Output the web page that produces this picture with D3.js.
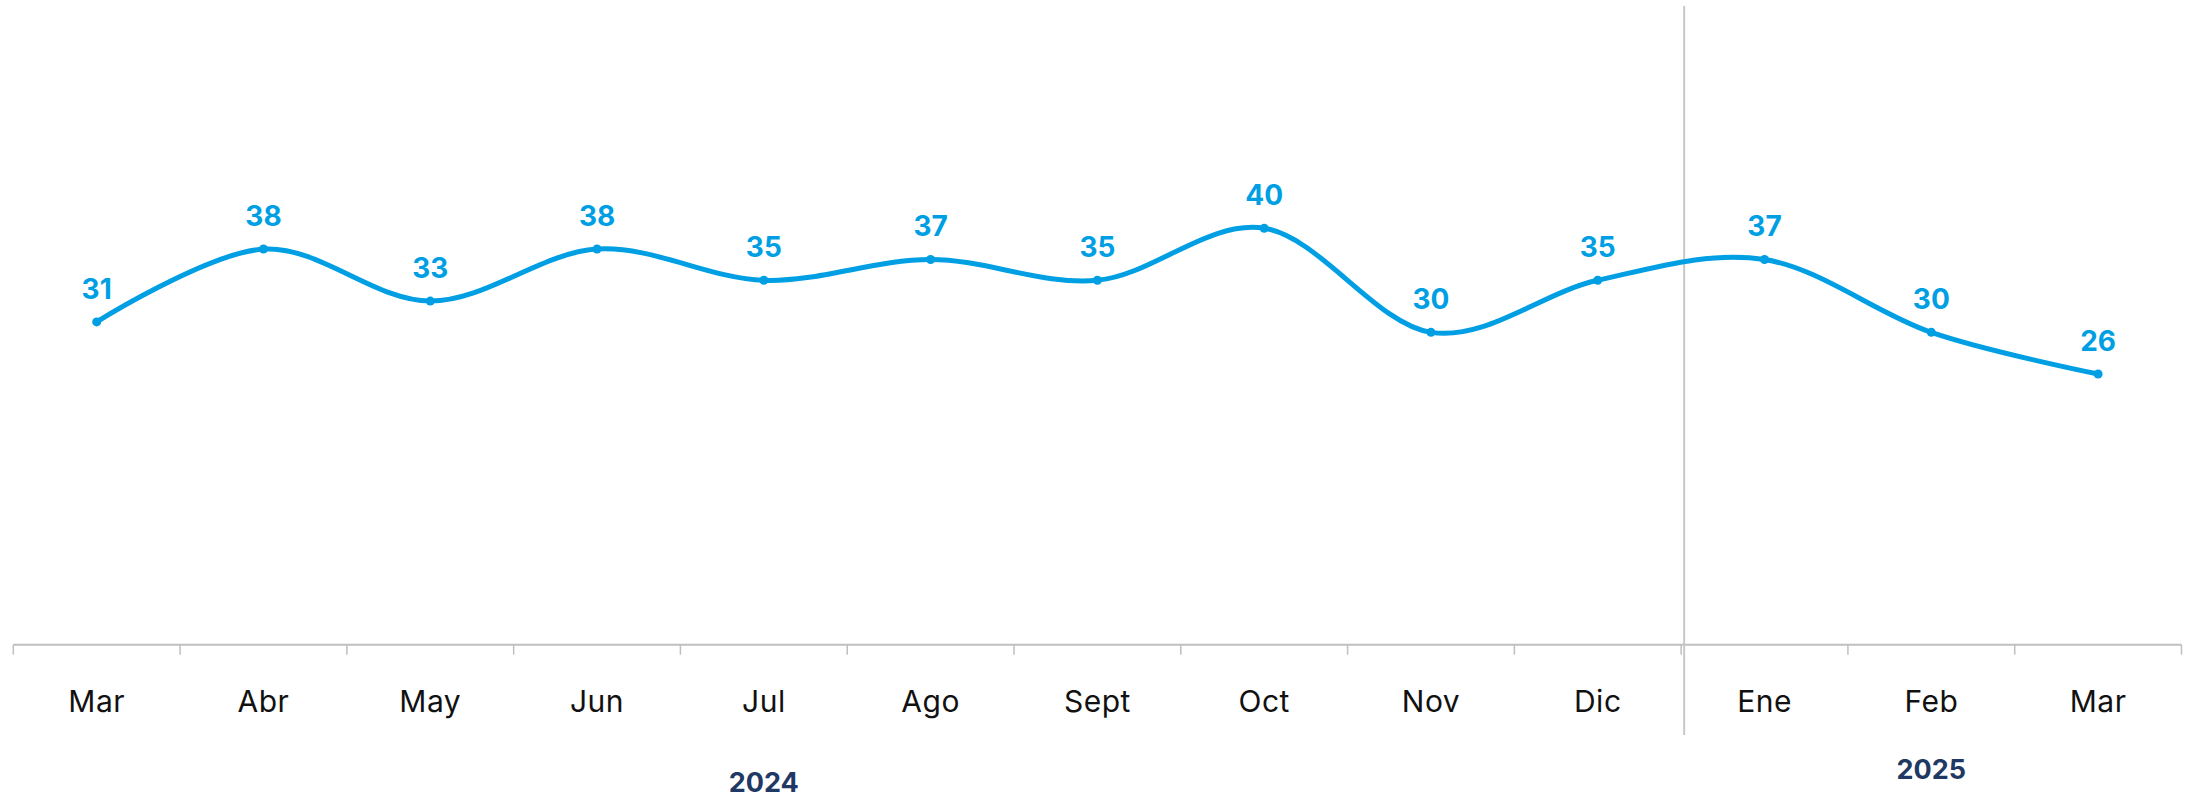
<!DOCTYPE html>
<html>
<head>
<meta charset="utf-8">
<script src="https://cdn.jsdelivr.net/npm/d3@7"></script>
<style>
  html, body { margin: 0; padding: 0; background: #fff; }
  svg { display: block; }
</style>
</head>
<body>
<svg id="chart" width="2191" height="799"></svg>
<script>
// ---- data ----
const months = ["Mar", "Abr", "May", "Jun", "Jul", "Ago", "Sept", "Oct", "Nov", "Dic", "Ene", "Feb", "Mar"];
const values = [31, 38, 33, 38, 35, 37, 35, 40, 30, 35, 37, 30, 26];
const yearLabels = ["2024", "2025"];
const yearAnchorIndex = [4, 11];
const yearStartIndex = [0, 10];

// ---- layout ----
const left = 13.3, right = 2181.5, axisY = 644.7, topY = 20;
const svg = d3.select("#chart");

const idx = months.map((d, i) => i);
const x = d3.scaleBand().domain(idx).range([left, right]).paddingInner(0).paddingOuter(0);
const y = d3.scaleLinear().domain([0, 60]).range([axisY, topY]);

const blue = "#009fe3";
const font = "Inter, 'Open Sans', sans-serif";

// axis line
svg.append("line")
  .attr("x1", left).attr("x2", right)
  .attr("y1", axisY).attr("y2", axisY)
  .attr("stroke", "#bfbfbf").attr("stroke-width", 2);

// boundary ticks
const boundaries = idx.map(i => x(i)).concat([x(idx[idx.length - 1]) + x.bandwidth()]);
svg.append("g").selectAll("line").data(boundaries).join("line")
  .attr("x1", d => d).attr("x2", d => d)
  .attr("y1", axisY).attr("y2", axisY + 10)
  .attr("stroke", "#bfbfbf").attr("stroke-width", 1.5);

// month labels via d3 axis
const axis = d3.axisBottom(x).tickSize(0).tickPadding(0).tickFormat(i => months[i]);
const gAxis = svg.append("g").attr("transform", `translate(0,${axisY})`).call(axis);
gAxis.select(".domain").remove();
gAxis.selectAll("text")
  .attr("y", 67)
  .attr("dy", 0)
  .attr("font-family", font)
  .attr("font-size", 30)
  .attr("font-weight", 400)
  .attr("letter-spacing", 0.5)
  .attr("fill", "#111");

// year divider line
const divX = x(yearStartIndex[1]) + 3;
svg.append("line")
  .attr("x1", divX).attr("x2", divX)
  .attr("y1", 6).attr("y2", 735)
  .attr("stroke", "#c8c8c8").attr("stroke-width", 2);

// year labels
const yearBaselines = [792, 779];
svg.append("g").selectAll("text").data(yearLabels).join("text")
  .attr("x", (d, i) => x(yearAnchorIndex[i]) + x.bandwidth() / 2)
  .attr("y", (d, i) => yearBaselines[i])
  .attr("text-anchor", "middle")
  .attr("font-family", font)
  .attr("font-size", 27)
  .attr("font-weight", 700)
  .attr("fill", "#1f3864")
  .text(d => d);

// line
const cx = i => x(i) + x.bandwidth() / 2;
const line = d3.line()
  .x((d, i) => cx(i))
  .y(d => y(d))
  .curve(d3.curveCardinal.tension(0));

svg.append("path")
  .datum(values)
  .attr("d", line)
  .attr("fill", "none")
  .attr("stroke", blue)
  .attr("stroke-width", 5)
  .attr("stroke-linecap", "round");

// markers
svg.append("g").selectAll("circle").data(values).join("circle")
  .attr("cx", (d, i) => cx(i))
  .attr("cy", d => y(d))
  .attr("r", 4.5)
  .attr("fill", blue);

// data labels
svg.append("g").selectAll("text").data(values).join("text")
  .attr("x", (d, i) => cx(i))
  .attr("y", d => y(d) - 23)
  .attr("text-anchor", "middle")
  .attr("font-family", font)
  .attr("font-size", 28)
  .attr("font-weight", 700)
  .attr("fill", blue)
  .text(d => d);
</script>
</body>
</html>
